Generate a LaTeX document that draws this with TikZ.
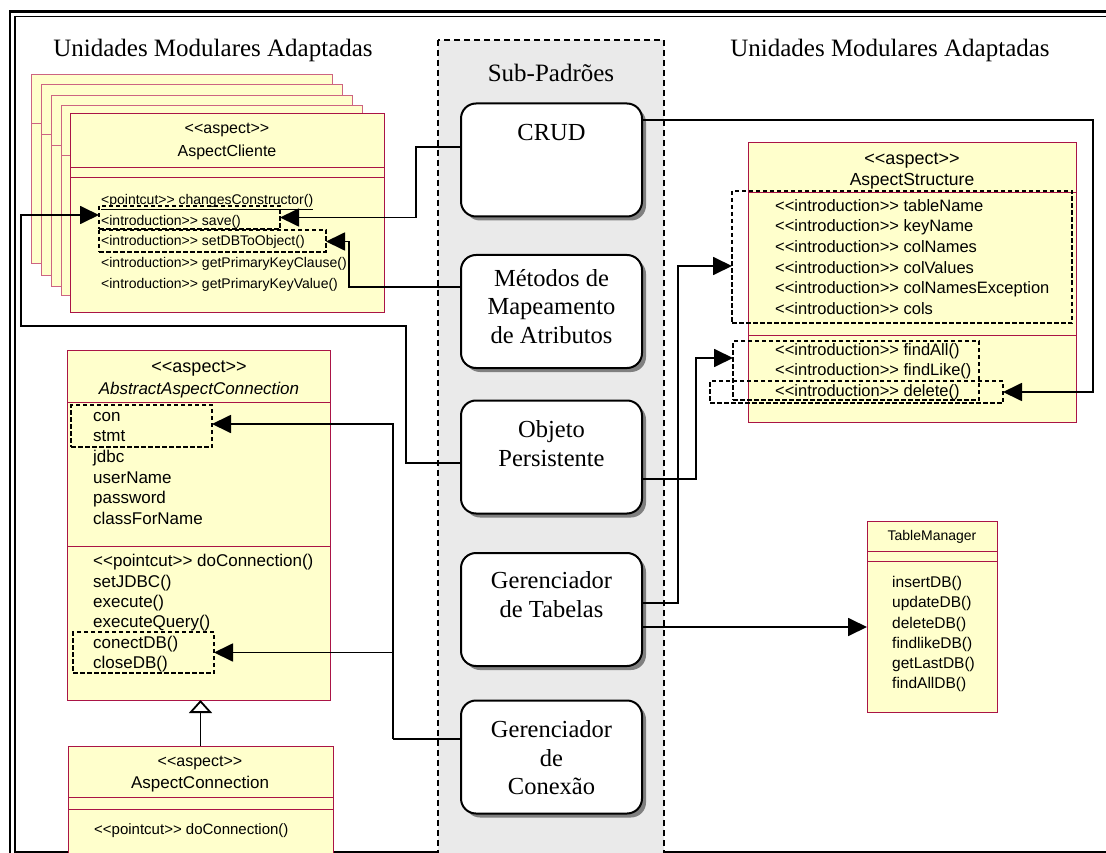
\documentclass[tikz,border=0pt]{standalone}
\usepackage{fontspec}
\setmainfont{Liberation Serif}
\newfontfamily\umlsans{Liberation Sans}
\usetikzlibrary{arrows.meta,shadows}
\definecolor{umlfill}{RGB}{255,255,204}
\definecolor{umlline}{RGB}{170,20,70}
\definecolor{umlback}{RGB}{205,100,130}
\definecolor{panelgray}{RGB}{234,234,234}
\newcommand\umlfs[1]{\umlsans\fontsize{#1}{#1}\selectfont}
\newcommand\serfs[1]{\fontsize{#1}{28.5}\selectfont}
\tikzset{
  umlbox/.style={draw=umlline, fill=umlfill, line width=1pt, anchor=north west, inner sep=0pt, outer sep=0pt},
  backbox/.style={umlbox, draw=umlback},
  sepline/.style={draw=umlline, line width=1pt},
  backsep/.style={draw=umlback, line width=1pt},
  hl/.style={draw, dash pattern=on 4.5pt off 2.5pt, line width=1.6pt, anchor=north west, inner sep=0pt, outer sep=0pt},
  pat/.style={draw, line width=2pt, fill=white, rounded corners=15pt, minimum width=181pt, minimum height=113pt, inner sep=0pt, outer sep=0pt, drop shadow={shadow xshift=4pt, shadow yshift=-4pt, fill=black!50, opacity=1}},
  pattxt/.style={anchor=north, inner sep=0pt, align=center, font=\serfs{24.5}},
  headtxt/.style={anchor=base, inner sep=0pt, font=\fontsize{25}{30}\selectfont},
  ut/.style={anchor=base west, inner sep=0pt},
  uc/.style={anchor=base, inner sep=0pt},
  conn/.style={line width=1.8pt},
  arr/.style={line width=1.8pt, -{Triangle[length=19pt,width=18pt]}},
  gen/.style={line width=1.8pt, -{Triangle[open,length=13pt,width=23pt,fill=white]}},
}
\begin{document}
\begin{tikzpicture}[x=1pt,y=-1pt]
\path[use as bounding box, clip] (0,0) rectangle (1106,853);
\fill[white] (0,0) rectangle (1106,853);
% frame
\draw[line width=2.2pt] (10,11.5) rectangle (1125,875);
\draw[line width=1.3pt] (15,16.5) rectangle (1115,852);
% central panel
\draw[dash pattern=on 6pt off 4pt, line width=1.6pt, fill=panelgray] (438,40) rectangle (664,880);
\node[headtxt] (subp) at (551,82) {Sub-Padrões};
\node[headtxt] (hdl) at (213,57) {Unidades Modulares Adaptadas};
\node[headtxt] (hdr) at (890,57) {Unidades Modulares Adaptadas};

% pattern boxes
\node[pat] (crud) at (551.5,160) {};
\node[pat] (met) at (551.5,311.5) {};
\node[pat] (obj) at (551.5,457) {};
\node[pat] (tab) at (551.5,609.5) {};
\node[pat] (conx) at (551.5,757) {};
\node[pattxt] (crudt) at (551.5,123.8) {CRUD};
\node[pattxt] (mett) at (551.5,269) {Métodos de\\Mapeamento\\de Atributos};
\node[pattxt] (objt) at (551.5,420.3) {Objeto\\Persistente};
\node[pattxt] (tabt) at (551.5,571.3) {Gerenciador\\de Tabelas};
\node[pattxt] (conxt) at (551.5,720.3) {Gerenciador\\de\\Conexão};

% AspectCliente stack
\node[backbox, minimum width=301pt, minimum height=189pt] (cl1) at (31,75) {};
\draw[backsep] (cl1.west |- 0,124) -- (cl1.east |- 0,124);
\node[backbox, minimum width=301pt, minimum height=190pt] (cl2) at (41,85) {};
\draw[backsep] (cl2.west |- 0,135) -- (cl2.east |- 0,135);
\node[backbox, minimum width=301pt, minimum height=190pt] (cl3) at (51,96) {};
\draw[backsep] (cl3.west |- 0,146) -- (cl3.east |- 0,146);
\node[backbox, minimum width=301pt, minimum height=189pt] (cl4) at (61,106) {};
\draw[backsep] (cl4.west |- 0,156) -- (cl4.east |- 0,156);
\node[umlbox, minimum width=314pt, minimum height=198pt] (cl) at (70,114) {};
\draw[sepline] (cl.west |- 0,168) -- (cl.east |- 0,168);
\draw[sepline] (cl.west |- 0,178) -- (cl.east |- 0,178);
\node[uc, font=\umlfs{16}] (cls) at (227,134) {<<aspect>>};
\node[uc, font=\umlfs{16}] (cln) at (227,157) {AspectCliente};
\node[ut, font=\umlfs{14}] (clo1) at (101,205) {\underline{<pointcut>> changesConstructor()}};
\node[ut, font=\umlfs{14}] (clo2) at (101,226) {<introduction>> save()};
\node[ut, font=\umlfs{14}] (clo3) at (101,246) {<introduction>> setDBToObject()};
\node[ut, font=\umlfs{14}] (clo4) at (101,267) {<introduction>> getPrimaryKeyClause()};
\node[ut, font=\umlfs{14}] (clo5) at (101,288) {<introduction>> getPrimaryKeyValue()};
\node[hl, minimum width=181pt, minimum height=23pt] (hlsave) at (99,206) {};
\node[hl, minimum width=227pt, minimum height=22pt] (hlset) at (99,230) {};

% AspectStructure
\node[umlbox, minimum width=328pt, minimum height=279pt] (as) at (748,143) {};
\draw[sepline] (as.west |- 0,193) -- (as.east |- 0,193);
\draw[sepline] (as.west |- 0,335) -- (as.east |- 0,335);
\node[uc, font=\umlfs{18}] (ass) at (912,165) {<<aspect>>};
\node[uc, font=\umlfs{17.5}] (asn) at (912,186) {AspectStructure};
\node[ut, font=\umlfs{16.5}] (asa1) at (775,212) {<<introduction>> tableName};
\node[ut, font=\umlfs{16.5}] (asa2) at (775,232) {<<introduction>> keyName};
\node[ut, font=\umlfs{16.5}] (asa3) at (775,252) {<<introduction>> colNames};
\node[ut, font=\umlfs{16.5}] (asa4) at (775,273) {<<introduction>> colValues};
\node[ut, font=\umlfs{16.5}] (asa5) at (775,293) {<<introduction>> colNamesException};
\node[ut, font=\umlfs{16.5}] (asa6) at (775,314) {<<introduction>> cols};
\node[ut, font=\umlfs{16.5}] (aso1) at (775,355) {<<introduction>> findAll()};
\node[ut, font=\umlfs{16.5}] (aso2) at (775,375) {<<introduction>> findLike()};
\node[ut, font=\umlfs{16.5}] (aso3) at (775,396) {<<introduction>> delete()};
\node[hl, minimum width=340pt, minimum height=132pt] (hlattr) at (732,191) {};
\node[hl, minimum width=246pt, minimum height=59pt] (hlfind) at (733,341) {};
\node[hl, minimum width=293pt, minimum height=22pt] (hldel) at (710,381) {};

% AbstractAspectConnection
\node[umlbox, minimum width=263pt, minimum height=350pt] (aac) at (67,350) {};
\draw[sepline] (aac.west |- 0,402) -- (aac.east |- 0,402);
\draw[sepline] (aac.west |- 0,546) -- (aac.east |- 0,546);
\node[uc, font=\umlfs{18}] (aacs) at (199,372) {<<aspect>>};
\node[uc, font=\umlfs{17}\itshape] (aacn) at (199,394) {AbstractAspectConnection};
\node[ut, font=\umlfs{17}] (aaa1) at (93,421) {con};
\node[ut, font=\umlfs{17}] (aaa2) at (93,441) {stmt};
\node[ut, font=\umlfs{17}] (aaa3) at (93,462) {jdbc};
\node[ut, font=\umlfs{17}] (aaa4) at (93,483) {userName};
\node[ut, font=\umlfs{17}] (aaa5) at (93,503) {password};
\node[ut, font=\umlfs{17}] (aaa6) at (93,524) {classForName};
\node[ut, font=\umlfs{17}] (aao1) at (93,566) {<<pointcut>> doConnection()};
\node[ut, font=\umlfs{17}] (aao2) at (93,587) {setJDBC()};
\node[ut, font=\umlfs{17}] (aao3) at (93,607) {execute()};
\node[ut, font=\umlfs{17}] (aao4) at (93,627) {executeQuery()};
\node[ut, font=\umlfs{17}] (aao5) at (93,648) {conectDB()};
\node[ut, font=\umlfs{17}] (aao6) at (93,668) {closeDB()};
\node[hl, minimum width=141pt, minimum height=42pt] (hlcon) at (71,405) {};
\node[hl, minimum width=141pt, minimum height=41pt] (hlconn) at (73,632) {};

% AspectConnection
\node[umlbox, minimum width=265pt, minimum height=130pt] (ac) at (68,746) {};
\draw[sepline] (ac.west |- 0,797) -- (ac.east |- 0,797);
\draw[sepline] (ac.west |- 0,809) -- (ac.east |- 0,809);
\node[uc, font=\umlfs{16}] (acs) at (200,766) {<<aspect>>};
\node[uc, font=\umlfs{17}] (acn) at (200,788) {AspectConnection};
\node[ut, font=\umlfs{15}] (aco1) at (94,834) {<<pointcut>> doConnection()};

% TableManager
\node[umlbox, minimum width=130pt, minimum height=191pt] (tm) at (867,521) {};
\draw[sepline] (tm.west |- 0,551) -- (tm.east |- 0,551);
\draw[sepline] (tm.west |- 0,561) -- (tm.east |- 0,561);
\node[uc, font=\umlfs{14}] (tmn) at (932,540) {TableManager};
\node[ut, font=\umlfs{15.5}] (tmo1) at (892,587) {insertDB()};
\node[ut, font=\umlfs{15.5}] (tmo2) at (892,607) {updateDB()};
\node[ut, font=\umlfs{15.5}] (tmo3) at (892,628) {deleteDB()};
\node[ut, font=\umlfs{15.5}] (tmo4) at (892,648) {findlikeDB()};
\node[ut, font=\umlfs{15.5}] (tmo5) at (892,668) {getLastDB()};
\node[ut, font=\umlfs{15.5}] (tmo6) at (892,688) {findAllDB()};

% connectors
\draw[arr] ([yshift=13pt]crud.west) -- ++(-45,0) |- (hlsave.east);
\draw[arr] ([yshift=40pt]crud.east) -- ++(451,0) |- (hldel.east);
\draw[arr] ([yshift=24.5pt]met.west) -- ++(-112,0) |- ([yshift=-0.5pt]hlset.east);
\draw[arr] ([yshift=-6pt]obj.west) -- ++(-55,0) -- ++(0,-137) -- ++(-385,0) |- ([yshift=2.5pt]hlsave.west);
\draw[arr] ([yshift=-22pt]obj.east) -- ++(54,0) |- ([yshift=12.5pt]hlfind.west);
\draw[arr] ([yshift=6.5pt]tab.east) -- ++(36,0) |- ([yshift=-9pt]hlattr.west);
\draw[arr] ([yshift=-17.5pt]tab.east) -- ([yshift=-17.5pt]tab.east -| tm.west);
\coordinate (jc) at ([yshift=18pt,xshift=-68pt]conx.west);
\draw[conn] ([yshift=18pt]conx.west) -- (jc);
\draw[arr] (jc) |- ([yshift=2pt]hlcon.east);
\draw[arr] (jc |- hlconn.east) -- (hlconn.east);
\draw[gen] (ac.north) -- (ac.north |- aac.south);
\end{tikzpicture}
\end{document}
